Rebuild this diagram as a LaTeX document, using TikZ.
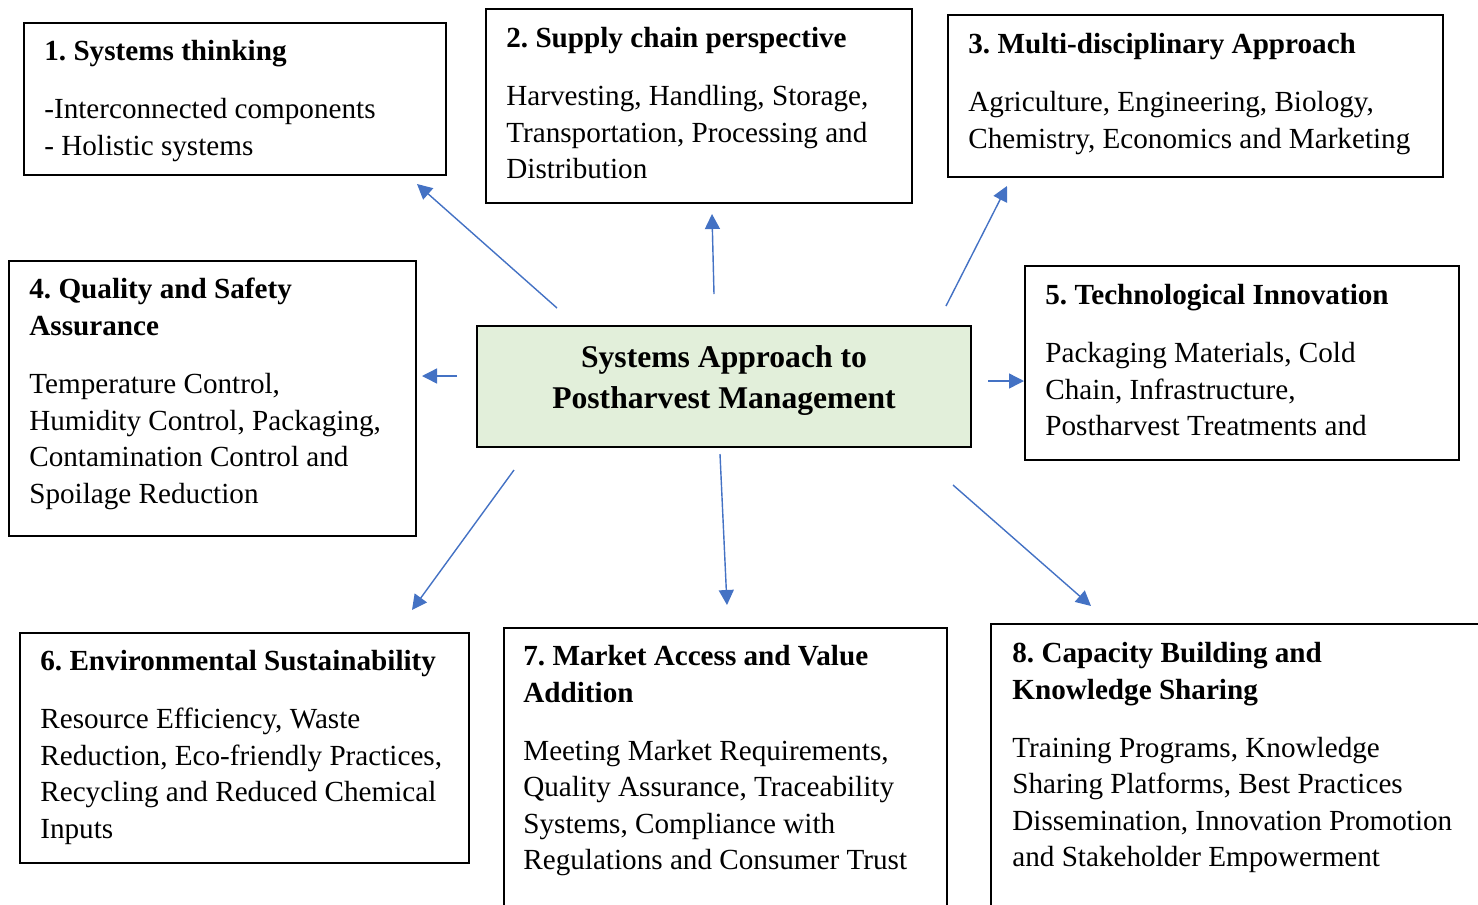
\documentclass[tikz,border=0pt]{standalone}
\usepackage{fontspec}
\setmainfont{Liberation Serif}
\usepackage{tikz}
\usetikzlibrary{arrows.meta,positioning}
\usepackage{xcolor}
\frenchspacing
\definecolor{phblue}{RGB}{68,114,196}
\definecolor{phgreen}{RGB}{226,239,218}
\tikzstyle{arrow} = [line width=0.8pt,-{Triangle[length=0.3cm,width=0.3cm]},color=phblue]
\tikzstyle{topicbox} = [rectangle, draw=black, line width=1.1pt, anchor=north west, inner sep=0pt]
\tikzstyle{topictext} = [anchor=north west, align=left, inner sep=0pt, font=\fontsize{16.6}{20.8}\selectfont]
\tikzstyle{hub} = [rectangle, draw=black, line width=1.1pt, fill=phgreen, align=center, text depth=0.38cm, font=\fontsize{18}{22.8}\selectfont\bfseries]

\begin{document}
\begin{tikzpicture}[x=0.02cm, y=-0.02cm]
\useasboundingbox (0,0) rectangle (1478,904);
\clip (0,0) rectangle (1478,904);

% Central node
\node[hub, minimum width=9.88cm, minimum height=2.42cm] (hub) at (724,386.5) {Systems Approach to\\Postharvest Management};

% Top row
\node[topicbox, minimum width=8.44cm, minimum height=3.04cm] (b1) at (23,22) {};
\node[topictext] (t1) at ([shift={(21,18)}]b1.north west) {\textbf{1. Systems thinking}\\[0.43cm]-Interconnected components\\- Holistic systems};

\node[topicbox, minimum width=8.52cm, minimum height=3.88cm] (b2) at (485,8) {};
\node[topictext] (t2) at ([shift={(21,19)}]b2.north west) {\textbf{2. Supply chain perspective}\\[0.43cm]Harvesting, Handling, Storage,\\Transportation, Processing and\\Distribution};

\node[topicbox, minimum width=9.9cm, minimum height=3.24cm] (b3) at (947,14) {};
\node[topictext] (t3) at ([shift={(21,19)}]b3.north west) {\textbf{3. Multi-disciplinary Approach}\\[0.43cm]Agriculture, Engineering, Biology,\\Chemistry, Economics and Marketing};

% Middle row
\node[topicbox, minimum width=8.14cm, minimum height=5.5cm] (b4) at (8,260) {};
\node[topictext] (t4) at ([shift={(21,18)}]b4.north west) {\textbf{4. Quality and Safety}\\\textbf{Assurance}\\[0.43cm]Temperature Control,\\Humidity Control, Packaging,\\Contamination Control and\\Spoilage Reduction};

\node[topicbox, minimum width=8.68cm, minimum height=3.88cm] (b5) at (1024,265) {};
\node[topictext] (t5) at ([shift={(21,19)}]b5.north west) {\textbf{5. Technological Innovation}\\[0.43cm]Packaging Materials, Cold\\Chain, Infrastructure,\\Postharvest Treatments and};

% Bottom row
\node[topicbox, minimum width=8.98cm, minimum height=4.6cm] (b6) at (19,632) {};
\node[topictext] (t6) at ([shift={(21,18)}]b6.north west) {\textbf{6. Environmental Sustainability}\\[0.43cm]Resource Efficiency, Waste\\Reduction, Eco-friendly Practices,\\Recycling and Reduced Chemical\\Inputs};

\node[topicbox, minimum width=8.86cm, minimum height=6cm] (b7) at (503,627) {};
\node[topictext] (t7) at ([shift={(20,18)}]b7.north west) {\textbf{7. Market Access and Value}\\\textbf{Addition}\\[0.43cm]Meeting Market Requirements,\\Quality Assurance, Traceability\\Systems, Compliance with\\Regulations and Consumer Trust};

\node[topicbox, minimum width=10.4cm, minimum height=6cm] (b8) at (990,623) {};
\node[topictext] (t8) at ([shift={(22,19)}]b8.north west) {\textbf{8. Capacity Building and}\\\textbf{Knowledge Sharing}\\[0.43cm]Training Programs, Knowledge\\Sharing Platforms, Best Practices\\Dissemination, Innovation Promotion\\and Stakeholder Empowerment};

% Arrow ends
\coordinate (a1s) at (557,308); \coordinate (a1e) at (417,184);
\coordinate (a2s) at (714,294); \coordinate (a2e) at (712,214);
\coordinate (a3s) at (946,306); \coordinate (a3e) at (1007,186);
\coordinate (a4s) at (457,376); \coordinate (a4e) at (422,376);
\coordinate (a5s) at (988,381); \coordinate (a5e) at (1024,381);
\coordinate (a6s) at (514,470); \coordinate (a6e) at (412,610);
\coordinate (a7s) at (720,454); \coordinate (a7e) at (727,605);
\coordinate (a8s) at (953,485); \coordinate (a8e) at (1091,606);

% Arrows
\foreach \i in {1,...,8}
  \draw[arrow] (a\i s) -- (a\i e);
\end{tikzpicture}
\end{document}
